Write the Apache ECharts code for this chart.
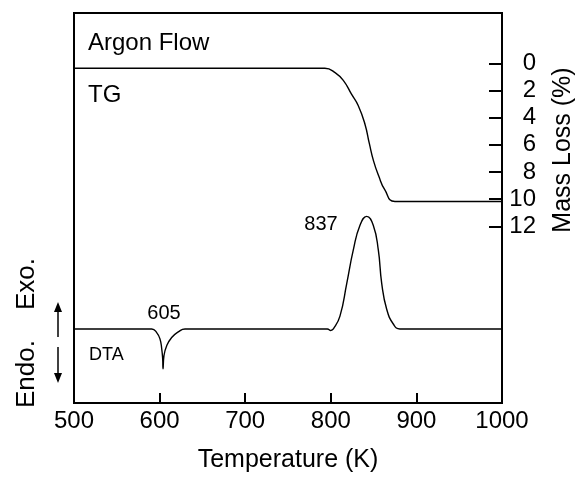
<!DOCTYPE html>
<html><head><meta charset="utf-8">
<script src="https://cdn.jsdelivr.net/npm/echarts@6/dist/echarts.min.js"></script>
<style>html,body{margin:0;padding:0;background:#fff}#c{width:575px;height:478px}</style>
</head><body><div id="c"></div>
<script>
// ---- data ----
const xTicks = [500, 600, 700, 800, 900, 1000];
const massTicks = [0, 2, 4, 6, 8, 10, 12];

// TG: mass loss (%) vs temperature (K)
const tgTemp = [500, 793, 805, 815, 824, 832, 840, 845, 850, 856, 863, 875, 1000];
const tgMass = [0.36, 0.36, 0.68, 1.29, 2.25, 3.1, 4.5, 5.9, 7.2, 8.3, 9.3, 10.18, 10.18];

// DTA: signal (arbitrary units, exo up) vs temperature (K)
const dtaTemp = [500, 590.8, 596.6, 600.5, 602.5, 603.6, 604.0, 605.1, 608.3, 614.1, 621.8, 629.7,
                 796, 800, 803, 810.7, 818.6, 826.3, 834.1, 841.9, 849.6, 855.5, 859.5, 865.3, 873, 880.8, 1000];
const dtaSignal = [0, 0, -0.37, -1.03, -2.03, -3.03, -4.03, -2.7, -1.7, -0.87, -0.3, 0,
                   0, -0.15, 0, 1.3, 4.6, 8.0, 10.5, 11.4, 10.5, 8.0, 4.6, 2.0, 0.5, 0, 0];

const FONT = "'Liberation Sans', Arial, Helvetica, sans-serif";
const chart = echarts.init(document.getElementById('c'), null, {renderer: 'canvas'});

const tgData = tgTemp.map((t, i) => [t, tgMass[i]]);
const dtaData = dtaTemp.map((t, i) => [t, dtaSignal[i]]);

chart.setOption({
  backgroundColor: '#fff',
  animation: false,
  grid: {left: 74, right: 73, top: 13, bottom: 70, show: true, borderColor: '#000', borderWidth: 2, containLabel: false},
  xAxis: {
    type: 'value', min: 500, max: 1000, interval: 100,
    axisLine: {show: true, onZero: false, lineStyle: {color: '#000', width: 2}},
    axisTick: {show: true, inside: true, length: 10, lineStyle: {color: '#000', width: 2}, customValues: xTicks.slice(1, -1)},
    axisLabel: {color: '#000', fontSize: 24, fontFamily: FONT, margin: 6, customValues: xTicks, formatter: v => String(v)},
    splitLine: {show: false},
    name: 'Temperature (K)', nameLocation: 'middle', nameGap: 45,
    nameTextStyle: {color: '#000', fontSize: 25, fontFamily: FONT}
  },
  yAxis: [
    {
      type: 'value', position: 'left', min: -7.5, max: 32, show: false
    },
    {
      type: 'value', position: 'right', inverse: true, min: -3.71, max: 25.02,
      axisLine: {show: true, onZero: false, lineStyle: {color: '#000', width: 2}},
      axisTick: {show: true, inside: true, length: 13, lineStyle: {color: '#000', width: 2}, customValues: massTicks},
      axisLabel: {color: '#000', fontSize: 24, fontFamily: FONT, margin: 34, align: 'right', customValues: massTicks},
      splitLine: {show: false}
    }
  ],
  series: [
    {
      name: 'TG', type: 'line', yAxisIndex: 1, data: tgData, showSymbol: false,
      smooth: 0.5,
      lineStyle: {color: '#000', width: 1.4}
    },
    {
      name: 'DTA', type: 'line', yAxisIndex: 0, data: dtaData, showSymbol: false,
      smooth: 0.5,
      lineStyle: {color: '#000', width: 1.4}
    }
  ],
  graphic: [
    {type: 'text', x: 88, y: 43, style: {text: 'Argon Flow', font: '24px ' + FONT, fill: '#000', textVerticalAlign: 'middle'}},
    {type: 'text', x: 88, y: 95, style: {text: 'TG', font: '24px ' + FONT, fill: '#000', textVerticalAlign: 'middle'}},
    {type: 'text', x: 89, y: 355, style: {text: 'DTA', font: '18px ' + FONT, fill: '#000', textVerticalAlign: 'middle'}},
    {type: 'text', x: 164, y: 313, style: {text: '605', font: '20px ' + FONT, fill: '#000', textAlign: 'center', textVerticalAlign: 'middle'}},
    {type: 'text', x: 321, y: 224, style: {text: '837', font: '20px ' + FONT, fill: '#000', textAlign: 'center', textVerticalAlign: 'middle'}},
    {type: 'text', x: 27, y: 284, rotation: Math.PI / 2, style: {text: 'Exo.', font: '26px ' + FONT, fill: '#000', textAlign: 'center', textVerticalAlign: 'middle'}},
    {type: 'text', x: 27, y: 374, rotation: Math.PI / 2, style: {text: 'Endo.', font: '26px ' + FONT, fill: '#000', textAlign: 'center', textVerticalAlign: 'middle'}},
    {type: 'text', x: 563, y: 150, rotation: Math.PI / 2, style: {text: 'Mass Loss (%)', font: '25px ' + FONT, fill: '#000', textAlign: 'center', textVerticalAlign: 'middle'}},
    // arrows
    {type: 'line', shape: {x1: 58, y1: 337, x2: 58, y2: 309}, style: {stroke: '#000', lineWidth: 1.5}},
    {type: 'polygon', shape: {points: [[58, 302], [54, 312], [62, 312]]}, style: {fill: '#000'}},
    {type: 'line', shape: {x1: 58, y1: 347, x2: 58, y2: 376}, style: {stroke: '#000', lineWidth: 1.5}},
    {type: 'polygon', shape: {points: [[58, 383], [54, 373], [62, 373]]}, style: {fill: '#000'}}
  ]
});
</script>
</body></html>
